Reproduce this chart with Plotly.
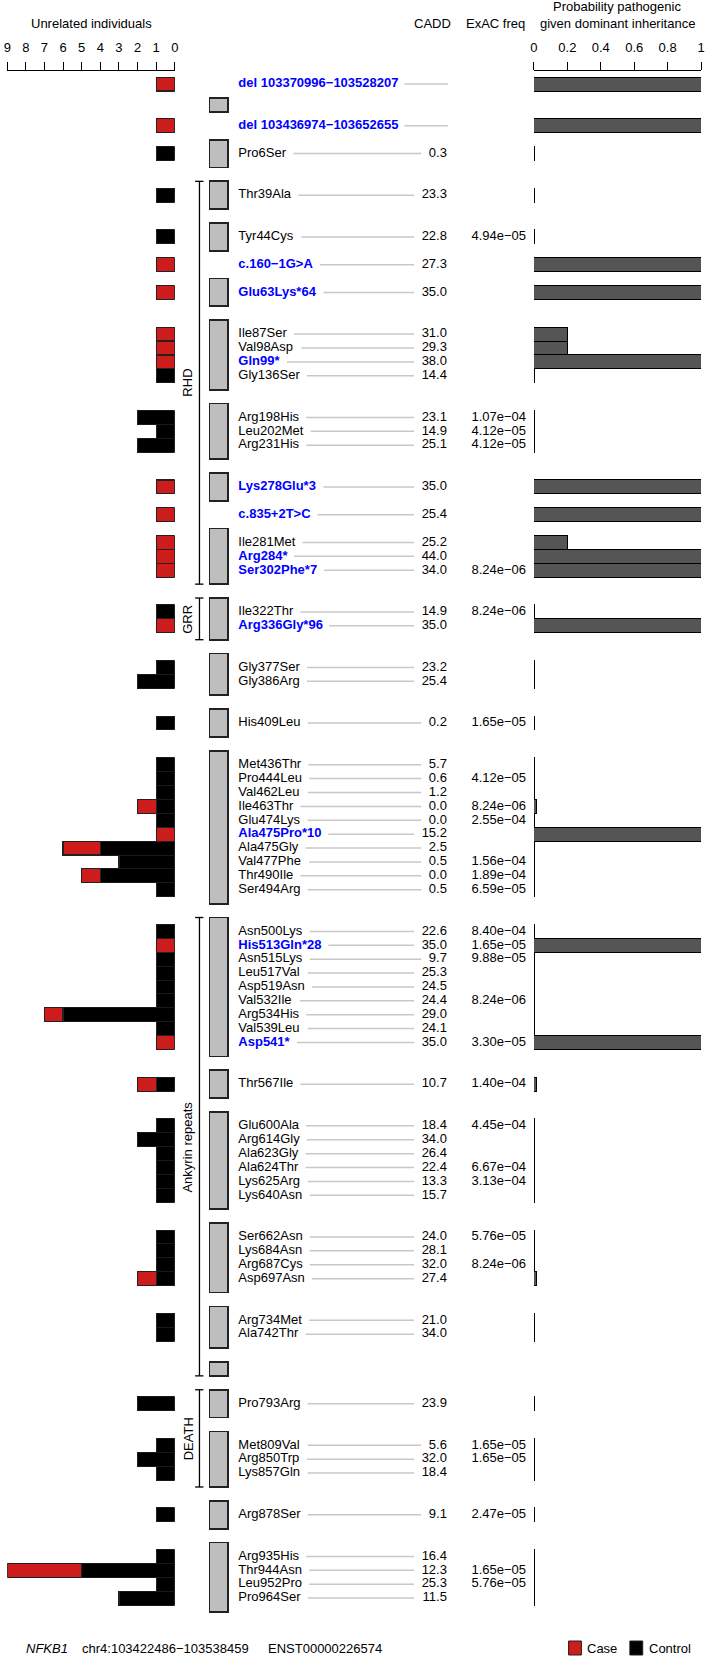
import plotly.graph_objects as go

FONT = "Liberation Sans, Arial, sans-serif"

# variants from top (5') to bottom (3'), with their exon (x.5 = between exons)
variants = ['del 103370996−103528207', 'del 103436974−103652655', 'Pro6Ser', 'Thr39Ala',
            'Tyr44Cys', 'c.160−1G>A', 'Glu63Lys*64', 'Ile87Ser', 'Val98Asp', 'Gln99*',
            'Gly136Ser', 'Arg198His', 'Leu202Met', 'Arg231His', 'Lys278Glu*3', 'c.835+2T>C',
            'Ile281Met', 'Arg284*', 'Ser302Phe*7', 'Ile322Thr', 'Arg336Gly*96', 'Gly377Ser',
            'Gly386Arg', 'His409Leu', 'Met436Thr', 'Pro444Leu', 'Val462Leu', 'Ile463Thr',
            'Glu474Lys', 'Ala475Pro*10', 'Ala475Gly', 'Val477Phe', 'Thr490Ile', 'Ser494Arg',
            'Asn500Lys', 'His513Gln*28', 'Asn515Lys', 'Leu517Val', 'Asp519Asn', 'Val532Ile',
            'Arg534His', 'Val539Leu', 'Asp541*', 'Thr567Ile', 'Glu600Ala', 'Arg614Gly',
            'Ala623Gly', 'Ala624Thr', 'Lys625Arg', 'Lys640Asn', 'Ser662Asn', 'Lys684Asn',
            'Arg687Cys', 'Asp697Asn', 'Arg734Met', 'Ala742Thr', 'Pro793Arg', 'Met809Val',
            'Arg850Trp', 'Lys857Gln', 'Arg878Ser', 'Arg935His', 'Thr944Asn', 'Leu952Pro',
            'Pro964Ser']
exon_pos = [0.5, 1.5, 2, 3, 4, 4.5, 5, 6, 6, 6, 6, 7, 7, 7, 8, 8.5, 9, 9, 9, 10, 10, 11, 11, 12,
            13, 13, 13, 13, 13, 13, 13, 13, 13, 13, 14, 14, 14, 14, 14, 14, 14, 14, 14, 15,
            16, 16, 16, 16, 16, 16, 17, 17, 17, 17, 18, 18, 20, 21, 21, 21, 22, 23, 23, 23, 23]
N_EXONS = 23
truncating = ['del 103370996−103528207', 'del 103436974−103652655', 'c.160−1G>A', 'Glu63Lys*64',
              'Gln99*', 'Lys278Glu*3', 'c.835+2T>C', 'Arg284*', 'Ser302Phe*7', 'Arg336Gly*96',
              'Ala475Pro*10', 'His513Gln*28', 'Asp541*']
cadd = [None, None, 0.3, 23.3, 22.8, 27.3, 35.0, 31.0, 29.3, 38.0, 14.4, 23.1, 14.9, 25.1, 35.0,
        25.4, 25.2, 44.0, 34.0, 14.9, 35.0, 23.2, 25.4, 0.2, 5.7, 0.6, 1.2, 0.0, 0.0, 15.2, 2.5,
        0.5, 0.0, 0.5, 22.6, 35.0, 9.7, 25.3, 24.5, 24.4, 29.0, 24.1, 35.0, 10.7, 18.4, 34.0,
        26.4, 22.4, 13.3, 15.7, 24.0, 28.1, 32.0, 27.4, 21.0, 34.0, 23.9, 5.6, 32.0, 18.4, 9.1,
        16.4, 12.3, 25.3, 11.5]
exac = [None, None, None, None, 4.94e-05, None, None, None, None, None, None, 1.07e-04,
        4.12e-05, 4.12e-05, None, None, None, None, 8.24e-06, 8.24e-06, None, None, None,
        1.65e-05, None, 4.12e-05, None, 8.24e-06, 2.55e-04, None, None, 1.56e-04, 1.89e-04,
        6.59e-05, 8.40e-04, 1.65e-05, 9.88e-05, None, None, 8.24e-06, None, None, 3.30e-05,
        1.40e-04, 4.45e-04, None, None, 6.67e-04, 3.13e-04, None, 5.76e-05, None, 8.24e-06,
        None, None, None, None, 1.65e-05, 1.65e-05, None, 2.47e-05, None, 1.65e-05, 5.76e-05,
        None]
controls = [0, 0, 1, 1, 1, 0, 0, 0, 0, 0, 1, 2, 1, 2, 0, 0, 0, 0, 0, 1, 0, 1, 2, 1, 1, 1, 1, 1,
            1, 0, 4, 3, 4, 1, 1, 0, 1, 1, 1, 1, 6, 1, 0, 1, 1, 2, 1, 1, 1, 1, 1, 1, 1, 1, 1, 1,
            2, 1, 2, 1, 1, 1, 5, 1, 3]
cases = [1, 1, 0, 0, 0, 1, 1, 1, 1, 1, 0, 0, 0, 0, 1, 1, 1, 1, 1, 0, 1, 0, 0, 0, 0, 0, 0, 1, 0,
         1, 2, 0, 1, 0, 0, 1, 0, 0, 0, 0, 1, 0, 1, 1, 0, 0, 0, 0, 0, 0, 0, 0, 0, 1, 0, 0, 0, 0,
         0, 0, 0, 0, 4, 0, 0]
prob = [1, 1, 0.003, 0.003, 0.003, 1, 1, 0.2, 0.2, 1, 0.003, 0.003, 0.003, 0.003, 1, 1, 0.2,
        1, 1, 0.003, 1, 0.006, 0.003, 0.003, 0.003, 0.003, 0.003, 0.015, 0.003, 1, 0.003,
        0.003, 0.003, 0.003, 0.003, 1, 0.003, 0.003, 0.003, 0.003, 0.003, 0.003, 1, 0.015,
        0.003, 0.003, 0.003, 0.003, 0.003, 0.003, 0.003, 0.003, 0.003, 0.015, 0.003, 0.003,
        0.003, 0.003, 0.003, 0.003, 0.003, 0.003, 0.003, 0.003, 0.003]
domains = ['RHD', 'GRR', 'Ankyrin repeats', 'DEATH']
domain_exons = [(3, 9), (10, 10), (14, 19), (20, 21)]

CASE_RED = '#CC1C1C'
W, H = 710, 1659
TOP = 70          # pixel row of the top axes
PITCH = 13.89     # pixels per slot
Y0 = 84.1         # pixel of slot 0

# Arial / Liberation Sans advance widths, to place the connector lines
REG = {'A': 667, 'C': 722, 'D': 722, 'E': 667, 'G': 778, 'H': 722, 'I': 278, 'K': 667, 'L': 556,
       'M': 833, 'N': 722, 'P': 667, 'R': 722, 'S': 667, 'T': 611, 'V': 667, 'a': 556, 'c': 500,
       'e': 556, 'g': 556, 'h': 556, 'i': 222, 'l': 222, 'n': 556, 'o': 556, 'p': 556, 'r': 333,
       's': 500, 't': 278, 'u': 556, 'y': 500, '.': 278, ' ': 278, '*': 389}
BOLD = {'A': 722, 'C': 722, 'D': 722, 'G': 778, 'H': 722, 'L': 611, 'P': 667, 'S': 667, 'T': 611,
        'K': 722, 'a': 556, 'c': 556, 'd': 611, 'e': 556, 'h': 611, 'i': 278, 'l': 278, 'n': 611,
        'o': 611, 'p': 611, 'r': 389, 's': 556, 't': 333, 'u': 611, 'y': 556, '.': 278,
        ' ': 278, '*': 389, '+': 584, '>': 584, '−': 584}


def text_w(s, bold=False, size=13):
    t = BOLD if bold else REG
    return sum(t.get(c, 556) for c in s) * size / 1000


# vertical layout: each exon box takes n+1 slots, 1 slot gap, intronic variants take 1 slot
row_y = [None] * len(variants)
exon_span = {}
cursor = 0
for key in sorted(set(exon_pos) | set(range(1, N_EXONS + 1))):
    idx = [i for i, p in enumerate(exon_pos) if p == key]
    if key != int(key):
        for i in idx:
            row_y[i] = cursor
            cursor += 1
    else:
        exon_span[key] = (cursor, cursor + len(idx) + 1)
        for j, i in enumerate(idx):
            row_y[i] = cursor + 1 + j
        cursor += len(idx) + 2

y_top = (TOP - Y0) / PITCH
y_bot = (H - Y0) / PITCH
ydom_top = 1 - TOP / H


def py(p):
    return 1 - p / H


def px(p):
    return p / W


bold = [v in truncating for v in variants]
cadd_txt = ['' if c is None else f'{c:.1f}' for c in cadd]
exac_txt = ['' if e is None else f'{e:.2e}'.replace('-', '−') for e in exac]

NAME_X, CADD_X, EXAC_X = 237, 448, 528

fig = go.Figure()

# left panel: unrelated individuals
fig.add_trace(go.Bar(y=row_y, x=controls, orientation='h', width=1, xaxis='x', yaxis='y',
                     marker=dict(color='black', line=dict(color='#1a1a1a', width=1)),
                     name='Control', hoverinfo='skip'))
fig.add_trace(go.Bar(y=row_y, x=cases, orientation='h', width=1, xaxis='x', yaxis='y',
                     marker=dict(color=CASE_RED, line=dict(color='#222222', width=1.2)),
                     name='Case', hoverinfo='skip'))

# right panel: probability pathogenic
fig.add_trace(go.Bar(y=row_y, x=prob, orientation='h', width=1, xaxis='x2', yaxis='y',
                     marker=dict(color='#555555', line=dict(color='black', width=1)),
                     hoverinfo='skip'))

# exon boxes
ex_keys = sorted(exon_span)
fig.add_trace(go.Bar(x=[217] * len(ex_keys),
                     y=[exon_span[k][1] - exon_span[k][0] for k in ex_keys],
                     base=[exon_span[k][0] for k in ex_keys], width=18.5,
                     xaxis='x3', yaxis='y',
                     marker=dict(color='#BEBEBE', line=dict(color='#222222', width=1.8)),
                     hoverinfo='skip'))

# connector lines
lx, ly = [], []
for i, v in enumerate(variants):
    x0 = NAME_X + text_w(v, bold[i]) + 8
    x1 = CADD_X - text_w(cadd_txt[i]) - 8 if cadd_txt[i] else CADD_X + 1
    lx += [x0, x1, None]
    ly += [row_y[i], row_y[i], None]
fig.add_trace(go.Scatter(x=lx, y=ly, mode='lines', xaxis='x3', yaxis='y',
                         line=dict(color='#C8C8C8', width=1.5), hoverinfo='skip'))

# domain brackets
bx, by = [], []
for name, (a, b) in zip(domains, domain_exons):
    t, btm = exon_span[a][0], exon_span[b][1]
    bx += [193.3, 201.7, None, 197.7, 197.7, None, 193.3, 201.7, None]
    by += [t, t, None, t, btm, None, btm, btm, None]
    fig.add_annotation(x=186, y=(t + btm) / 2, xref='x3', yref='y', text=name,
                       textangle=-90, showarrow=False, xanchor='center', yanchor='middle',
                       font=dict(size=13, color='black', family=FONT))
fig.add_trace(go.Scatter(x=bx, y=by, mode='lines', xaxis='x3', yaxis='y',
                         line=dict(color='black', width=1.3), hoverinfo='skip'))

# variant names, CADD, ExAC
for flag, col, weight in [(False, 'black', 'normal'), (True, '#0000FF', 'bold')]:
    sel = [i for i in range(len(variants)) if bold[i] == flag]
    fig.add_trace(go.Scatter(x=[NAME_X] * len(sel), y=[row_y[i] for i in sel],
                             text=[variants[i] for i in sel], mode='text',
                             textposition='middle right', xaxis='x3', yaxis='y',
                             textfont=dict(size=13, color=col, family=FONT, weight=weight),
                             hoverinfo='skip', cliponaxis=False))
fig.add_trace(go.Scatter(x=[CADD_X] * len(variants), y=row_y, text=cadd_txt, mode='text',
                         textposition='middle left', xaxis='x3', yaxis='y',
                         textfont=dict(size=13, color='black', family=FONT),
                         hoverinfo='skip', cliponaxis=False))
fig.add_trace(go.Scatter(x=[EXAC_X] * len(variants), y=row_y, text=exac_txt, mode='text',
                         textposition='middle left', xaxis='x3', yaxis='y',
                         textfont=dict(size=13, color='black', family=FONT),
                         hoverinfo='skip', cliponaxis=False))

axis_common = dict(side='top', anchor='free', position=ydom_top, showline=True,
                   linecolor='black', linewidth=1.3, ticks='outside', ticklen=8,
                   tickwidth=1.3, tickcolor='black', showgrid=False, zeroline=False,
                   tickfont=dict(size=13, color='black', family=FONT), ticklabelstandoff=5,
                   ticklabeloverflow='allow', fixedrange=True)

fig.update_layout(
    width=W, height=H, margin=dict(l=0, r=0, t=0, b=0),
    paper_bgcolor='white', plot_bgcolor='rgba(0,0,0,0)', showlegend=False,
    barmode='stack', font=dict(family=FONT, size=13, color='black'),
    xaxis=dict(domain=[px(3.3), px(172.7)], range=[9, 0], tickvals=list(range(10)),
               **axis_common),
    xaxis2=dict(domain=[px(536), px(705)], range=[0, 1], tickvals=[0, 0.2, 0.4, 0.6, 0.8, 1],
                ticktext=['0', '0.2', '0.4', '0.6', '0.8', '1'], **axis_common),
    xaxis3=dict(domain=[0, 1], range=[0, W], visible=False, anchor='y', fixedrange=True),
    yaxis=dict(domain=[0, ydom_top], range=[y_bot, y_top], visible=False, fixedrange=True),
)

# headers
heads = [('Unrelated individuals', 88, 23), ('CADD', 433, 23), ('ExAC freq', 497, 23),
         ('Probability pathogenic', 620, 7), ('given dominant inheritance', 620, 23)]
for t, x, y in heads:
    fig.add_annotation(x=px(x), y=py(y), xref='paper', yref='paper', text=t, showarrow=False,
                       xanchor='center', yanchor='middle',
                       font=dict(size=13, color='black', family=FONT))

# footer
foot = [('<i>NFKB1</i>', 20), ('chr4:103422486−103538459', 77), ('ENST00000226574', 265),
        ('Case', 588), ('Control', 650)]
for t, x in foot:
    fig.add_annotation(x=px(x), y=py(1648), xref='paper', yref='paper', text=t, showarrow=False,
                       xanchor='left', yanchor='middle',
                       font=dict(size=13, color='black', family=FONT))
for x0, col in [(571, CASE_RED), (633, 'black')]:
    fig.add_shape(type='rect', xref='paper', yref='paper', x0=px(x0), x1=px(x0 + 13),
                  y0=py(1655), y1=py(1641), fillcolor=col, line=dict(color='#222', width=1))

fig.write_html("out.html", config={'displayModeBar': False},
               post_script="document.body.style.margin='0';")
